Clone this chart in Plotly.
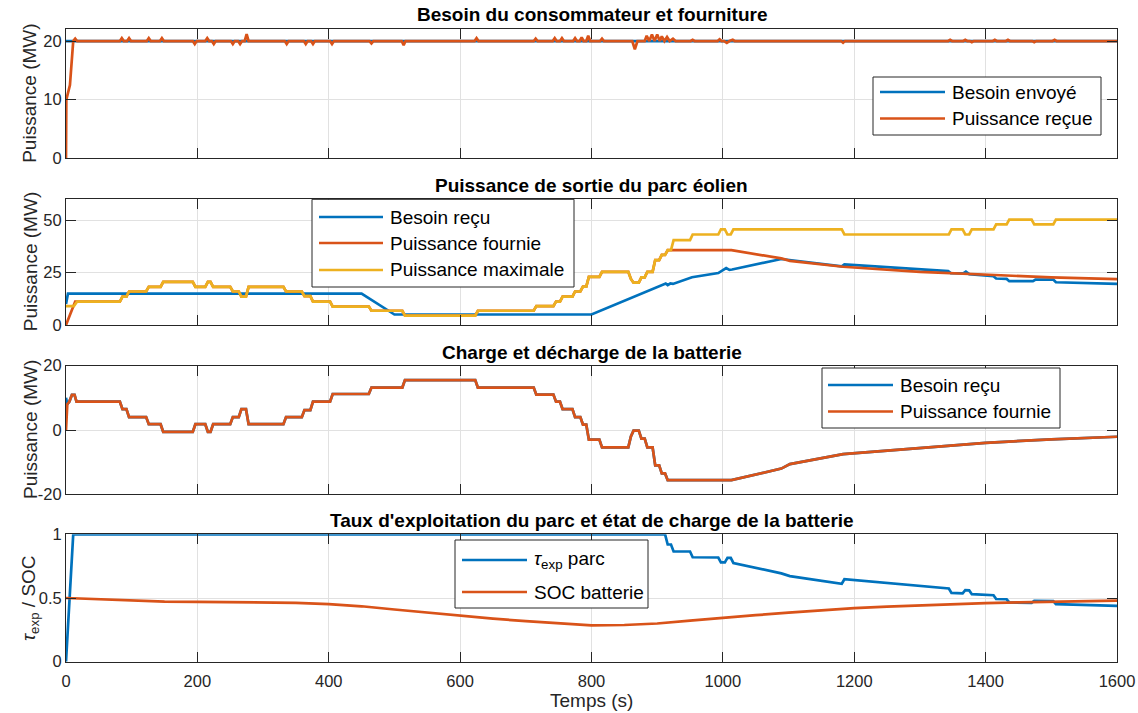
import plotly.graph_objects as go

# ---------------------------------------------------------------- data
# 1) consumer demand / delivered power (MW)
demand_t = [0, 1600]
demand_v = [20, 20]

recv_t = [0, 0.5, 6, 11, 14, 17,
          82, 85, 88, 93, 96, 99, 123, 126, 129, 143, 146, 149,
          193, 196, 199, 212, 215, 218, 222, 225, 228, 251, 254, 257,
          262, 265, 268, 272, 275, 278, 333, 336, 339, 362, 365, 368,
          373, 376, 379, 402, 405, 408, 462, 465, 468, 511, 514, 517,
          622, 625, 628, 712, 715, 718, 741, 744, 747, 752, 755, 758,
          772, 775, 778, 782, 785, 788, 792, 795, 798, 813, 816, 819,
          862, 866, 870,
          881, 884, 888, 892, 896, 900, 904, 907, 911, 915, 919, 924, 928,
          951, 954, 957,
          992, 995, 998, 1002, 1006, 1010, 1015, 1018,
          1180, 1183, 1186, 1343, 1346, 1349, 1366, 1369, 1372,
          1376, 1379, 1382, 1411, 1414, 1417, 1431, 1434, 1437,
          1471, 1474, 1477, 1502, 1505, 1508, 1600]
recv_v = [0, 10, 12.5, 20, 20.4, 20,
          20, 20.5, 20, 20, 20.5, 20, 20, 20.5, 20, 20, 20.5, 20,
          20, 19.5, 20, 20, 20.5, 20, 20, 19.5, 20, 20, 19.5, 20,
          20, 19.5, 20, 20, 21.2, 20, 20, 19.5, 20, 20, 19.5, 20,
          20, 19.5, 20, 20, 19.5, 20, 20, 19.6, 20, 20, 19.3, 20,
          20, 20.5, 20, 20, 20.4, 20, 20, 20.5, 20, 20, 20.5, 20,
          20, 20.5, 20, 20, 20.6, 20, 20, 20.9, 20, 20, 20.4, 20,
          20, 18.6, 20,
          20, 20.9, 20, 21.1, 20, 21.1, 20, 20.8, 20, 20.7, 20, 20.4, 20,
          20, 20.2, 20,
          20, 20.3, 20, 20, 19.7, 20, 20.2, 20,
          20, 19.7, 20, 20, 20.2, 20, 20, 20.2, 20,
          20, 19.8, 20, 20, 20.2, 20, 20, 20.2, 20,
          20, 19.8, 20, 20, 20.2, 20, 20]

# 2) wind farm output (MW)
need_t = [0, 3, 450, 500, 800, 913, 916, 920, 924, 950, 953, 993, 997, 1005,
          1010, 1014, 1089, 1181, 1185, 1343, 1347, 1366, 1370, 1375, 1412,
          1416, 1432, 1436, 1472, 1476, 1503, 1507, 1600]
need_v = [10, 15, 15, 5, 5, 19.8, 19.0, 19.8, 19.6, 22.3, 22.8, 24.8, 25.5, 27.2,
          26.3, 26.5, 31.5, 28.0, 28.9, 25.7, 24.8, 24.6, 25.5, 24.3, 23.3,
          22.2, 22.0, 20.9, 20.9, 21.7, 21.7, 20.4, 19.6]

max_t = [0, 12, 17, 82, 86, 92, 96, 122, 126, 144, 148, 193, 197, 212, 216, 220,
         224, 250, 254, 263, 267, 274, 278, 331, 335, 359, 363, 372, 376, 402,
         406, 461, 465, 512, 516, 623, 627, 712, 716, 742, 746, 752, 756, 771,
         775, 783, 787, 792, 796, 812, 816, 856, 860, 864, 872, 876, 881, 885,
         893, 897, 903, 907, 912, 916, 921, 925, 950, 954, 993, 997, 1003, 1007,
         1012, 1016, 1181, 1185, 1344, 1348, 1365, 1369, 1375, 1379, 1412, 1416,
         1432, 1436, 1470, 1474, 1503, 1507, 1600]
max_v = [9, 9, 11.2, 11.2, 13.5, 13.5, 16, 16, 18.2, 18.2, 20.6, 20.6, 18.2, 18.2,
         20.6, 20.6, 18.2, 18.2, 16, 16, 13.5, 13.5, 18.2, 18.2, 16, 16, 13.8,
         13.8, 11.2, 11.2, 8.8, 8.8, 6.8, 6.8, 4.5, 4.5, 6.8, 6.8, 9, 9, 11.2,
         11.2, 13.5, 13.5, 16, 16, 18.3, 18.3, 23, 23, 25.4, 25.4, 22, 20.2, 20.2,
         22.7, 22.7, 25.4, 25.4, 31, 31, 33.5, 33.5, 35.7, 35.7, 40.5, 40.5, 43.2,
         43.2, 45.6, 45.6, 43.2, 43.2, 45.6, 45.6, 43.2, 43.2, 45.6, 45.6, 43.2,
         43.2, 45.6, 45.6, 48, 48, 50.3, 50.3, 48, 48, 50.3, 50.3]

sup_t = [0, 14, 17, 82, 86, 92, 96, 122, 126, 144, 148, 193, 197, 212, 216, 220,
         224, 250, 254, 263, 267, 274, 278, 331, 335, 359, 363, 372, 376, 402,
         406, 461, 465, 512, 516, 623, 627, 712, 716, 742, 746, 752, 756, 771,
         775, 783, 787, 792, 796, 812, 816, 856, 860, 864, 872, 876, 881, 885,
         893, 897, 903, 907, 912, 916, 1013, 1089, 1102, 1183, 1300, 1400, 1500,
         1600]
sup_v = [0, 11.2, 11.2, 11.2, 13.5, 13.5, 16, 16, 18.2, 18.2, 20.6, 20.6, 18.2,
         18.2, 20.6, 20.6, 18.2, 18.2, 16, 16, 13.5, 13.5, 18.2, 18.2, 16, 16,
         13.8, 13.8, 11.2, 11.2, 8.8, 8.8, 6.8, 6.8, 4.5, 4.5, 6.8, 6.8, 9, 9,
         11.2, 11.2, 13.5, 13.5, 16, 16, 18.3, 18.3, 23, 23, 25.4, 25.4, 22, 20.2,
         20.2, 22.7, 22.7, 25.4, 25.4, 31, 31, 33.5, 33.5, 35.7, 35.7, 31.8, 30.6,
         27.8, 25.4, 23.9, 22.7, 21.9]

# 3) battery charge / discharge (MW)
bat_t = [0, 2, 5, 9, 13, 16, 82, 86, 92, 96, 122, 126, 144, 148, 193, 197, 212,
         216, 220, 224, 250, 254, 263, 267, 274, 278, 331, 335, 359, 363, 372,
         376, 402, 406, 461, 465, 512, 516, 623, 627, 712, 716, 742, 746, 752,
         756, 771, 775, 783, 787, 792, 796, 812, 816, 856, 860, 864, 872, 876,
         881, 885, 893, 897, 903, 907, 912, 916, 1013, 1089, 1102, 1183, 1300,
         1400, 1500, 1600]
bat_need = [10, 8, 8.8, 10.9, 10.9, 8.8, 8.8, 6.5, 6.5, 4.0, 4.0, 1.8, 1.8, -0.6,
            -0.6, 1.8, 1.8, -0.6, -0.6, 1.8, 1.8, 4.0, 4.0, 6.5, 6.5, 1.8, 1.8,
            4.0, 4.0, 6.2, 6.2, 8.8, 8.8, 11.2, 11.2, 13.2, 13.2, 15.5, 15.5, 13.2,
            13.2, 11.0, 11.0, 8.8, 8.8, 6.5, 6.5, 4.0, 4.0, 1.7, 1.7, -3.0, -3.0,
            -5.4, -5.4, -2.0, -0.2, -0.2, -2.7, -2.7, -5.4, -5.4, -11.0, -11.0,
            -13.5, -13.5, -15.6, -15.6, -12.0, -10.6, -7.5, -5.7, -4.0, -2.9, -2.1]
bat_supply = [0, 8, 8.8, 10.9, 10.9, 8.8, 8.8, 6.5, 6.5, 4.0, 4.0, 1.8, 1.8, -0.6,
              -0.6, 1.8, 1.8, -0.6, -0.6, 1.8, 1.8, 4.0, 4.0, 6.5, 6.5, 1.8, 1.8,
              4.0, 4.0, 6.2, 6.2, 8.8, 8.8, 11.2, 11.2, 13.2, 13.2, 15.5, 15.5, 13.2,
              13.2, 11.0, 11.0, 8.8, 8.8, 6.5, 6.5, 4.0, 4.0, 1.7, 1.7, -3.0, -3.0,
              -5.4, -5.4, -2.0, -0.2, -0.2, -2.7, -2.7, -5.4, -5.4, -11.0, -11.0,
              -13.5, -13.5, -15.6, -15.6, -12.0, -10.6, -7.5, -5.7, -4.0, -2.9, -2.1]

# 4) farm exploitation rate and battery state of charge
tau_t = [0, 11, 912, 916, 921, 925, 950, 954, 993, 997, 1003, 1007, 1012, 1016,
         1089, 1102, 1181, 1185, 1344, 1348, 1365, 1369, 1375, 1379, 1412, 1416,
         1432, 1436, 1470, 1474, 1503, 1507, 1600]
tau_v = [0, 1, 1, 0.92, 0.92, 0.865, 0.865, 0.82, 0.818, 0.78, 0.78, 0.815, 0.815,
         0.775, 0.693, 0.672, 0.612, 0.647, 0.575, 0.54, 0.537, 0.562, 0.56, 0.53,
         0.522, 0.492, 0.49, 0.465, 0.462, 0.478, 0.475, 0.452, 0.438]

soc_t = [0, 50, 100, 150, 200, 250, 300, 350, 400, 450, 500, 550, 600, 650, 700,
         750, 800, 850, 900, 950, 1000, 1050, 1100, 1150, 1200, 1250, 1300, 1350,
         1400, 1450, 1500, 1550, 1600]
soc_v = [0.50, 0.49, 0.478, 0.472, 0.47, 0.469, 0.467, 0.462, 0.452, 0.435, 0.41,
         0.385, 0.36, 0.338, 0.318, 0.30, 0.285, 0.288, 0.30, 0.322, 0.345, 0.365,
         0.385, 0.403, 0.42, 0.432, 0.443, 0.452, 0.46, 0.466, 0.471, 0.475, 0.479]

x_ticks = [0, 200, 400, 600, 800, 1000, 1200, 1400, 1600]

# ---------------------------------------------------------------- style
BLUE, ORANGE, YELLOW = "#0072BD", "#D95319", "#EDB120"
AX, GRID = "#262626", "#e1e1e1"
FONT = "Liberation Sans, Arial, Helvetica, sans-serif"
LW = 2.7
TXT = 19          # titles, axis labels and legend entries
TICK = 16.5       # tick labels

W, H = 1138, 713
L, R = 66, 1117                      # plot area, px
ROWS = [(29.3, 158.3), (199.3, 325.0), (365.7, 494.3), (534.3, 661.7)]


def xp(px):
    return (px - L) / (R - L)


def yp(py):
    return 1 - py / H


fig = go.Figure()


def add_line(i, t, v, color):
    sfx = "" if i == 1 else str(i)
    fig.add_trace(go.Scatter(x=t, y=v, mode="lines", showlegend=False,
                             line=dict(color=color, width=LW),
                             xaxis="x" + sfx, yaxis="y" + sfx,
                             hoverinfo="skip"))


add_line(1, demand_t, demand_v, BLUE)
add_line(1, recv_t, recv_v, ORANGE)
add_line(2, need_t, need_v, BLUE)
add_line(2, sup_t, sup_v, ORANGE)
add_line(2, max_t, max_v, YELLOW)
add_line(3, bat_t, bat_need, BLUE)
add_line(3, bat_t, bat_supply, ORANGE)
add_line(4, tau_t, tau_v, BLUE)
add_line(4, soc_t, soc_v, ORANGE)

y_specs = [
    dict(range=[0, 22], tickvals=[0, 10, 20], ticktext=["0", "10", "20"]),
    dict(range=[0, 60], tickvals=[0, 25, 50], ticktext=["0", "25", "50"]),
    dict(range=[-20, 20], tickvals=[-20, 0, 20], ticktext=["-20", "0", "20"]),
    dict(range=[0, 1], tickvals=[0, 0.5, 1], ticktext=["0", "0.5", "1"]),
]

common = dict(showgrid=True, gridcolor=GRID, gridwidth=1, zeroline=False,
              showline=True, linecolor=AX, linewidth=1, mirror="ticks",
              ticks="inside", ticklen=10, tickwidth=1, tickcolor=AX,
              tickfont=dict(family=FONT, size=TICK, color=AX),
              automargin=False, fixedrange=True)

layout = {}
for i, (top, bot) in enumerate(ROWS, start=1):
    sfx = "" if i == 1 else str(i)
    layout["xaxis" + sfx] = dict(common, domain=[0, 1], range=[0, 1600],
                                 tickvals=x_ticks,
                                 ticktext=[str(v) for v in x_ticks],
                                 showticklabels=(i == 4),
                                 anchor="y" + sfx, ticklabelstandoff=4)
    layout["yaxis" + sfx] = dict(common, domain=[yp(bot), yp(top)],
                                 anchor="x" + sfx, **y_specs[i - 1])

annotations = []
shapes = []

# subplot titles
titles = [
    ("Besoin du consommateur et fourniture", 14.5),
    ("Puissance de sortie du parc éolien", 185),
    ("Charge et décharge de la batterie", 352),
    ("Taux d'exploitation du parc et état de charge de la batterie", 520),
]
for text, py in titles:
    annotations.append(dict(text="<b>" + text + "</b>", x=0.5, y=yp(py),
                            xref="paper", yref="paper", xanchor="center",
                            yanchor="middle", showarrow=False,
                            font=dict(family=FONT, size=TXT, color="#000")))

# axis titles
ylabels = ["Puissance (MW)", "Puissance (MW)", "Puissance (MW)",
           "<i>τ</i><sub>exp</sub> / SOC"]
for (top, bot), lab in zip(ROWS, ylabels):
    annotations.append(dict(text=lab, x=xp(30), y=yp((top + bot) / 2),
                            xref="paper", yref="paper", xanchor="center",
                            yanchor="middle", textangle=-90, showarrow=False,
                            font=dict(family=FONT, size=TXT, color=AX)))
annotations.append(dict(text="Temps (s)", x=0.5, y=yp(700), xref="paper",
                        yref="paper", xanchor="center", yanchor="middle",
                        showarrow=False,
                        font=dict(family=FONT, size=TXT, color=AX)))


# legends (boxed, drawn in paper space)
def legend(box, line_x, text_x, entries):
    x0, x1, y0, y1 = box
    shapes.append(dict(type="rect", xref="paper", yref="paper",
                       x0=xp(x0), x1=xp(x1), y0=yp(y1), y1=yp(y0),
                       line=dict(color=AX, width=1), fillcolor="white",
                       layer="above"))
    for label, color, py in entries:
        shapes.append(dict(type="line", xref="paper", yref="paper",
                           x0=xp(line_x[0]), x1=xp(line_x[1]),
                           y0=yp(py), y1=yp(py),
                           line=dict(color=color, width=LW), layer="above"))
        annotations.append(dict(text=label, x=xp(text_x), y=yp(py),
                                xref="paper", yref="paper", xanchor="left",
                                yanchor="middle", showarrow=False,
                                font=dict(family=FONT, size=TXT, color="#000")))


legend((873, 1101, 77, 135), (880, 945), 950,
       [("Besoin envoyé", BLUE, 92), ("Puissance reçue", ORANGE, 118.5)])
legend((312, 574, 199.3, 287), (319, 383), 388,
       [("Besoin reçu", BLUE, 217), ("Puissance fournie", ORANGE, 243),
        ("Puissance maximale", YELLOW, 270)])
legend((822, 1060, 368, 428), (828, 893), 898,
       [("Besoin reçu", BLUE, 385), ("Puissance fournie", ORANGE, 411.5)])
legend((455, 648, 540, 608), (462, 527), 532,
       [("<i>τ</i><sub>exp</sub> parc", BLUE, 560),
        ("SOC batterie", ORANGE, 592)])

fig.update_layout(
    width=W, height=H,
    margin=dict(l=L, r=W - R, t=0, b=0, pad=0),
    paper_bgcolor="white", plot_bgcolor="white",
    font=dict(family=FONT, color=AX),
    annotations=annotations, shapes=shapes,
    **layout,
)

fig.write_html("out.html")
